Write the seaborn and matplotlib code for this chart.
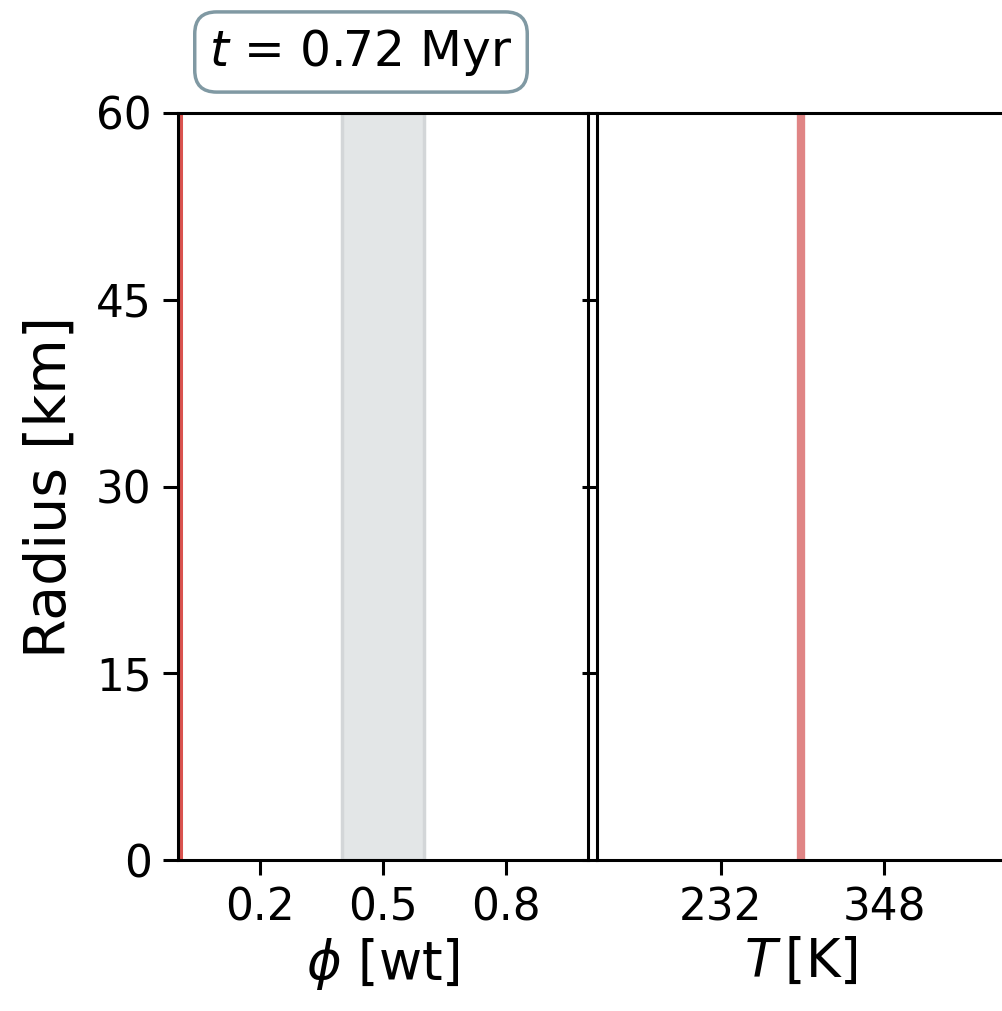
import numpy as np
import pandas as pd
import matplotlib
matplotlib.use("Agg")
import matplotlib.pyplot as plt
import seaborn as sns

# ---- data ----
radius_km = [0, 60]
phi_profile = [0.007, 0.007]
temp_profile = [289.0, 289.0]
band_phi = [0.4, 0.6]
phi_ticks = [0.2, 0.5, 0.8]
temp_ticks = [232, 348]
radius_ticks = [0, 15, 30, 45, 60]
time_label = r"$t$ = 0.72 Myr"

sns.set_theme(style="ticks")
plt.rcParams['font.family'] = ['DejaVu Sans']
plt.rcParams['text.color'] = 'black'
plt.rcParams['axes.labelcolor'] = 'black'
plt.rcParams['xtick.color'] = 'black'
plt.rcParams['ytick.color'] = 'black'
plt.rcParams['axes.linewidth'] = 2.2
plt.rcParams['xtick.major.width'] = 2.2
plt.rcParams['ytick.major.width'] = 2.2
plt.rcParams['xtick.major.size'] = 11
plt.rcParams['ytick.major.size'] = 11

W, H = 1003, 1011
fig = plt.figure(figsize=(W / 100, H / 100), dpi=100)

def fc(x0, y0, x1, y1):
    return [x0 / W, 1 - y1 / H, (x1 - x0) / W, (y1 - y0) / H]

ax1 = fig.add_axes(fc(178, 113, 588, 860))
ax2 = fig.add_axes(fc(597, 113, 1005, 860))

df = pd.DataFrame({"r": radius_km, "phi": phi_profile, "T": temp_profile})

# left panel
ax1.axvspan(band_phi[0], band_phi[1], facecolor="#e3e6e7", edgecolor="#d3d6d8", lw=2.5, zorder=0)
sns.lineplot(data=df, x="phi", y="r", sort=False, estimator=None, ax=ax1,
             color="#d9534f", lw=2.2)
ax1.set_xlim(0, 1)
ax1.set_ylim(0, 60)
ax1.set_xticks(phi_ticks)
ax1.set_yticks(radius_ticks)
ax1.tick_params(labelsize=31.5, pad=8)
ax1.set_xlabel(r"$\phi$ [wt]", fontsize=38, labelpad=5)
ax1.set_ylabel("Radius [km]", fontsize=41, labelpad=13)

# right panel
sns.lineplot(data=df, x="T", y="r", sort=False, estimator=None, ax=ax2,
             color="#e08585", lw=6)
ax2.set_xlim(144, 434)
ax2.set_ylim(0, 60)
ax2.set_xticks(temp_ticks)
ax2.set_yticks(radius_ticks)
ax2.tick_params(labelsize=31.5, pad=8)
ax2.tick_params(axis="y", labelleft=False)
ax2.set_xlabel(r"$T\,$[K]", fontsize=38, labelpad=5)
ax2.set_ylabel("")

for ax in (ax1, ax2):
    for s in ax.spines.values():
        s.set_color("black")

fig.text(361 / W, 1 - 52 / H, time_label, fontsize=35, ha="center", va="center",
         bbox=dict(boxstyle="round,pad=0.3,rounding_size=0.45", fc="white",
                   ec="#8099a3", lw=2.5))

fig.savefig("out.png", dpi=100)
